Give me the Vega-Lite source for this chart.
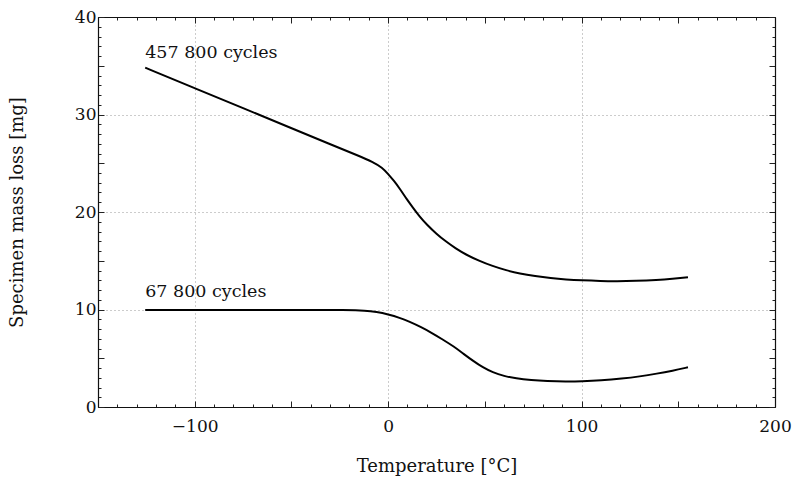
{
  "$schema": "https://vega.github.io/schema/vega-lite/v6.json",
  "width": 677,
  "height": 390,
  "autosize": {"type": "none"},
  "padding": {"left": 98, "top": 17, "right": 18, "bottom": 78},
  "background": "white",
  "config": {
    "view": {"stroke": null},
    "font": "DejaVu Serif",
    "axis": {
      "labelFont": "DejaVu Serif",
      "titleFont": "DejaVu Serif",
      "labelFontSize": 17,
      "titleFontSize": 18,
      "labelColor": "#111",
      "titleColor": "#111",
      "titleFontWeight": "normal",
      "domainColor": "#111",
      "domainWidth": 1.2,
      "tickColor": "#222",
      "tickWidth": 1,
      "gridColor": "#999",
      "gridDash": [1, 3],
      "gridWidth": 1
    }
  },
  "datasets": {
    "curves": [
      {"t": -125.6, "m": 34.8, "s": "457 800 cycles"},
      {"t": -100, "m": 32.7, "s": "457 800 cycles"},
      {"t": -75, "m": 30.65, "s": "457 800 cycles"},
      {"t": -50, "m": 28.6, "s": "457 800 cycles"},
      {"t": -30, "m": 26.95, "s": "457 800 cycles"},
      {"t": -15, "m": 25.75, "s": "457 800 cycles"},
      {"t": -8, "m": 25.15, "s": "457 800 cycles"},
      {"t": -3, "m": 24.55, "s": "457 800 cycles"},
      {"t": 0, "m": 23.9, "s": "457 800 cycles"},
      {"t": 3, "m": 23.2, "s": "457 800 cycles"},
      {"t": 6, "m": 22.4, "s": "457 800 cycles"},
      {"t": 10, "m": 21.2, "s": "457 800 cycles"},
      {"t": 13, "m": 20.4, "s": "457 800 cycles"},
      {"t": 16, "m": 19.6, "s": "457 800 cycles"},
      {"t": 20, "m": 18.7, "s": "457 800 cycles"},
      {"t": 25, "m": 17.75, "s": "457 800 cycles"},
      {"t": 30, "m": 16.95, "s": "457 800 cycles"},
      {"t": 35, "m": 16.25, "s": "457 800 cycles"},
      {"t": 40, "m": 15.65, "s": "457 800 cycles"},
      {"t": 47, "m": 15.0, "s": "457 800 cycles"},
      {"t": 54, "m": 14.45, "s": "457 800 cycles"},
      {"t": 61, "m": 14.02, "s": "457 800 cycles"},
      {"t": 68, "m": 13.68, "s": "457 800 cycles"},
      {"t": 76, "m": 13.42, "s": "457 800 cycles"},
      {"t": 84, "m": 13.22, "s": "457 800 cycles"},
      {"t": 92, "m": 13.08, "s": "457 800 cycles"},
      {"t": 100, "m": 12.99, "s": "457 800 cycles"},
      {"t": 110, "m": 12.92, "s": "457 800 cycles"},
      {"t": 118, "m": 12.9, "s": "457 800 cycles"},
      {"t": 128, "m": 12.93, "s": "457 800 cycles"},
      {"t": 139, "m": 13.02, "s": "457 800 cycles"},
      {"t": 147, "m": 13.14, "s": "457 800 cycles"},
      {"t": 155, "m": 13.3, "s": "457 800 cycles"},
      {"t": -125.6, "m": 9.95, "s": "67 800 cycles"},
      {"t": -100, "m": 9.95, "s": "67 800 cycles"},
      {"t": -50, "m": 9.95, "s": "67 800 cycles"},
      {"t": -20, "m": 9.95, "s": "67 800 cycles"},
      {"t": -12, "m": 9.9, "s": "67 800 cycles"},
      {"t": -6, "m": 9.75, "s": "67 800 cycles"},
      {"t": 0, "m": 9.5, "s": "67 800 cycles"},
      {"t": 6, "m": 9.15, "s": "67 800 cycles"},
      {"t": 11, "m": 8.75, "s": "67 800 cycles"},
      {"t": 17, "m": 8.2, "s": "67 800 cycles"},
      {"t": 23, "m": 7.55, "s": "67 800 cycles"},
      {"t": 28, "m": 6.95, "s": "67 800 cycles"},
      {"t": 34, "m": 6.2, "s": "67 800 cycles"},
      {"t": 39, "m": 5.45, "s": "67 800 cycles"},
      {"t": 44, "m": 4.72, "s": "67 800 cycles"},
      {"t": 49, "m": 4.05, "s": "67 800 cycles"},
      {"t": 54, "m": 3.55, "s": "67 800 cycles"},
      {"t": 60, "m": 3.17, "s": "67 800 cycles"},
      {"t": 66, "m": 2.93, "s": "67 800 cycles"},
      {"t": 74, "m": 2.76, "s": "67 800 cycles"},
      {"t": 82, "m": 2.66, "s": "67 800 cycles"},
      {"t": 92, "m": 2.6, "s": "67 800 cycles"},
      {"t": 100, "m": 2.63, "s": "67 800 cycles"},
      {"t": 110, "m": 2.72, "s": "67 800 cycles"},
      {"t": 121, "m": 2.91, "s": "67 800 cycles"},
      {"t": 130, "m": 3.13, "s": "67 800 cycles"},
      {"t": 139, "m": 3.42, "s": "67 800 cycles"},
      {"t": 147, "m": 3.72, "s": "67 800 cycles"},
      {"t": 155, "m": 4.07, "s": "67 800 cycles"}
    ],
    "labels": [
      {"t": -125.6, "m": 35.8, "label": "457 800 cycles"},
      {"t": -125.6, "m": 11.28, "label": "67 800 cycles"}
    ]
  },
  "layer": [
    {
      "data": {"name": "curves"},
      "mark": {"type": "line", "color": "black", "strokeWidth": 2, "interpolate": "basis"},
      "encoding": {
        "x": {
          "field": "t", "type": "quantitative",
          "scale": {"domain": [-150, 200], "nice": false, "zero": false},
          "axis": {
            "orient": "bottom",
            "title": "Temperature [°C]",
            "titlePadding": 20,
            "values": [-150,-140,-130,-120,-110,-100,-90,-80,-70,-60,-50,-40,-30,-20,-10,0,10,20,30,40,50,60,70,80,90,100,110,120,130,140,150,160,170,180,190,200],
            "labelExpr": "datum.value % 100 === 0 ? datum.label : ''",
            "tickSize": {"condition": {"test": "datum.value % 50 === 0", "value": -6}, "value": -3},
            "labelPadding": 17,
            "grid": true,
            "gridOpacity": {"condition": {"test": "datum.value % 100 === 0", "value": 1}, "value": 0},
            "labelFlush": false,
            "labelOverlap": false
          }
        },
        "y": {
          "field": "m", "type": "quantitative",
          "scale": {"domain": [0, 40], "nice": false},
          "axis": {
            "orient": "left",
            "title": "Specimen mass loss [mg]",
            "titlePadding": 48,
            "values": [0,1,2,3,4,5,6,7,8,9,10,11,12,13,14,15,16,17,18,19,20,21,22,23,24,25,26,27,28,29,30,31,32,33,34,35,36,37,38,39,40],
            "labelExpr": "datum.value % 10 === 0 ? datum.label : ''",
            "tickSize": {"condition": {"test": "datum.value % 5 === 0", "value": -6}, "value": -3},
            "labelPadding": 8,
            "grid": true,
            "gridOpacity": {"condition": {"test": "datum.value % 10 === 0", "value": 1}, "value": 0},
            "labelFlush": false,
            "labelOverlap": false
          }
        },
        "detail": {"field": "s"}
      }
    },
    {
      "data": {"name": "labels"},
      "mark": {"type": "text", "align": "left", "baseline": "alphabetic", "font": "DejaVu Serif", "fontSize": 17.5, "color": "#111"},
      "encoding": {
        "x": {"field": "t", "type": "quantitative", "axis": null},
        "y": {"field": "m", "type": "quantitative", "axis": null},
        "text": {"field": "label"}
      }
    },
    {
      "data": {"name": "labels"},
      "mark": {"type": "rule", "opacity": 0},
      "encoding": {
        "x": {
          "field": "t", "type": "quantitative",
          "axis": {
            "orient": "top", "title": null, "labels": false, "grid": false,
            "values": [-150,-140,-130,-120,-110,-100,-90,-80,-70,-60,-50,-40,-30,-20,-10,0,10,20,30,40,50,60,70,80,90,100,110,120,130,140,150,160,170,180,190,200],
            "tickSize": {"condition": {"test": "datum.value % 50 === 0", "value": -6}, "value": -3}
          }
        },
        "y": {
          "field": "m", "type": "quantitative",
          "axis": {
            "orient": "right", "title": null, "labels": false, "grid": false,
            "values": [0,1,2,3,4,5,6,7,8,9,10,11,12,13,14,15,16,17,18,19,20,21,22,23,24,25,26,27,28,29,30,31,32,33,34,35,36,37,38,39,40],
            "tickSize": {"condition": {"test": "datum.value % 5 === 0", "value": -6}, "value": -3}
          }
        }
      }
    }
  ],
  "resolve": {"axis": {"x": "independent", "y": "independent"}}
}
